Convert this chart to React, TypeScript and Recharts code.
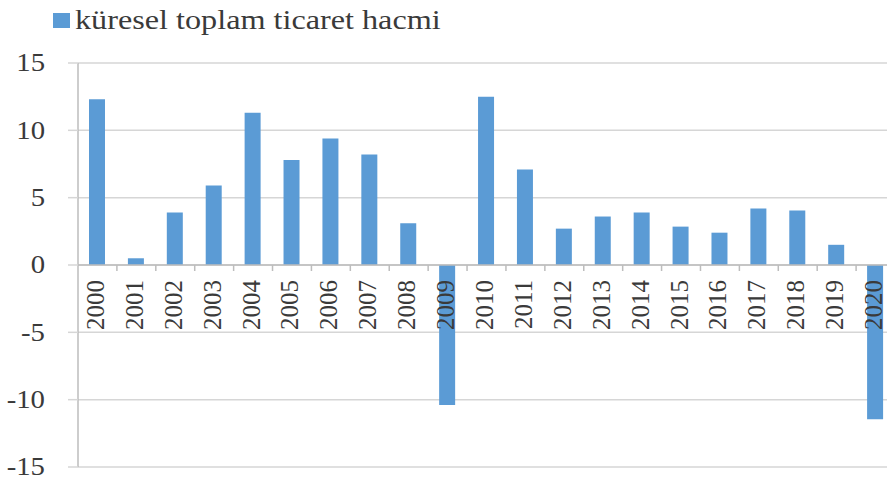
import { Bar, BarChart, CartesianGrid, Legend, ReferenceLine, XAxis, YAxis } from "recharts"

const YEARS = [
  "2000", "2001", "2002", "2003", "2004", "2005", "2006", "2007", "2008", "2009", "2010",
  "2011", "2012", "2013", "2014", "2015", "2016", "2017", "2018", "2019", "2020",
]
const TRADE_VOLUME = [
  12.3, 0.5, 3.9, 5.9, 11.3, 7.8, 9.4, 8.2, 3.1, -10.4, 12.5,
  7.1, 2.7, 3.6, 3.9, 2.85, 2.4, 4.2, 4.05, 1.5, -11.45,
]
const Y_TICKS = [-15, -10, -5, 0, 5, 10, 15]
const SERIES_NAME = "küresel toplam ticaret hacmi"

const WIDTH = 900
const HEIGHT = 481
const X_AXIS_HEIGHT = 2
const MARGIN = { top: 63, right: 5, left: 0, bottom: 14 - X_AXIS_HEIGHT }
const Y_AXIS_WIDTH = 78
const BAR_COLOR = "#5b9bd5"
const GRID_COLOR = "#d6d6d6"
const AXIS_COLOR = "#bdbdbd"
const TEXT_COLOR = "#3a3a3a"
const FONT = "'Liberation Serif', 'Times New Roman', serif"

// the category axis sits on the zero line, halfway down the symmetric domain
const ZERO_Y = MARGIN.top + (HEIGHT - MARGIN.top - MARGIN.bottom - X_AXIS_HEIGHT) / 2
const BAND = (WIDTH - MARGIN.left - MARGIN.right - Y_AXIS_WIDTH) / YEARS.length

const data = YEARS.map((year, i) => ({ year, value: TRADE_VOLUME[i] }))

function YearTick({ x, payload, index }: any) {
  const left = x - BAND / 2
  return (
    <g>
      {index > 0 && <line x1={left} x2={left} y1={ZERO_Y} y2={ZERO_Y + 6} stroke={AXIS_COLOR} strokeWidth={1.5} />}
      <text
        transform={`translate(${x - 2},${ZERO_Y + 15}) rotate(-90)`}
        textAnchor="end"
        dominantBaseline="central"
        fontFamily={FONT}
        fontSize={25}
        fill={TEXT_COLOR}
      >
        {payload.value}
      </text>
    </g>
  )
}

function ValueTick({ x, y, payload }: any) {
  return (
    <text
      transform={`translate(${x},${y}) scale(1.15,1)`}
      textAnchor="end"
      dominantBaseline="central"
      fontFamily={FONT}
      fontSize={25}
      fill={TEXT_COLOR}
    >
      {payload.value}
    </text>
  )
}

function LegendContent() {
  return (
    <div style={{ display: "flex", alignItems: "center", whiteSpace: "nowrap" }}>
      <span style={{ display: "inline-block", width: 17, height: 15, background: BAR_COLOR, marginRight: 5 }} />
      <span
        style={{
          fontFamily: FONT,
          fontSize: 28,
          color: TEXT_COLOR,
          display: "inline-block",
          transform: "scaleX(1.15)",
          transformOrigin: "left center",
        }}
      >
        {SERIES_NAME}
      </span>
    </div>
  )
}

export default function App() {
  return (
    <div style={{ position: "absolute", left: 0, top: 0, width: 887, height: 481, overflow: "hidden", background: "#fff" }}>
      <BarChart width={WIDTH} height={HEIGHT} data={data} margin={MARGIN} barCategoryGap={0}>
        <CartesianGrid vertical={false} stroke={GRID_COLOR} strokeWidth={1.5} />
        <XAxis
          dataKey="year"
          height={X_AXIS_HEIGHT}
          axisLine={false}
          tickLine={false}
          interval={0}
          tick={<YearTick />}
        />
        <YAxis
          width={Y_AXIS_WIDTH}
          domain={[-15, 15]}
          ticks={Y_TICKS}
          axisLine={{ stroke: AXIS_COLOR, strokeWidth: 1.5 }}
          tickLine={{ stroke: GRID_COLOR, strokeWidth: 1.5 }}
          tickSize={10}
          tickMargin={23}
          tick={<ValueTick />}
        />
        <ReferenceLine y={0} stroke={AXIS_COLOR} strokeWidth={1.5} />
        <Legend
          layout="vertical"
          align="center"
          verticalAlign="middle"
          wrapperStyle={{ top: 4, left: 53, width: "auto" }}
          content={<LegendContent />}
        />
        <Bar dataKey="value" name={SERIES_NAME} fill={BAR_COLOR} barSize={16} isAnimationActive={false} />
      </BarChart>
    </div>
  )
}
